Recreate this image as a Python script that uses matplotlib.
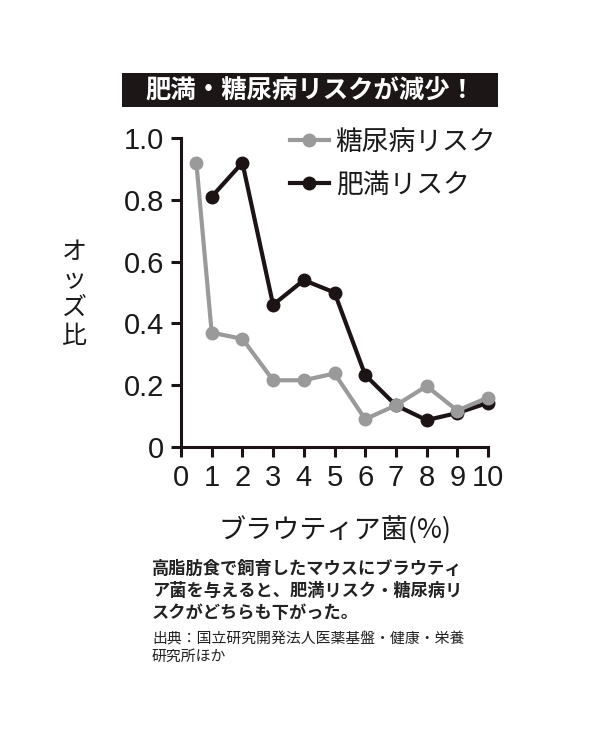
import matplotlib
matplotlib.use("Agg")
import matplotlib.pyplot as plt
from matplotlib.patches import Rectangle

plt.rcParams['font.family'] = ['Liberation Sans', 'Noto Sans CJK JP', 'DejaVu Sans']
JP = ['Noto Sans CJK JP', 'DejaVu Sans']

# ---- data ----
diab_x = [0.5, 1, 2, 3, 4, 5, 6, 7, 8, 9, 10]
diab_y = [0.92, 0.37, 0.35, 0.216, 0.216, 0.238, 0.09, 0.135, 0.197, 0.118, 0.16]
obes_x = [1, 2, 3, 4, 5, 6, 7, 8, 9, 10]
obes_y = [0.81, 0.92, 0.46, 0.54, 0.50, 0.233, 0.135, 0.087, 0.11, 0.143]
xticks = list(range(0, 11))
yticks = [0, 0.2, 0.4, 0.6, 0.8, 1.0]
ytick_labels = ['0', '0.2', '0.4', '0.6', '0.8', '1.0']
title = '肥満・糖尿病リスクが減少！'
label_diab = '糖尿病リスク'
label_obes = '肥満リスク'
xlabel = 'ブラウティア菌(%)'
ylabel = 'オッズ比'
note = '高脂肪食で飼育したマウスにブラウティ\nア菌を与えると、肥満リスク・糖尿病リ\nスクがどちらも下がった。'
source = '出典：国立研究開発法人医薬基盤・健康・栄養\n研究所ほか'

GRAY = '#9a9a9a'
BLACK = '#1c1414'
TXT = '#1a1a1a'

fig = plt.figure(figsize=(6.08, 7.5), dpi=100)
fig.patch.set_facecolor('white')
W, H = 608, 750
ax = fig.add_axes([181 / W, 1 - 447 / H, (488 - 181) / W, (447 - 138) / H])

l_obes, = ax.plot(obes_x, obes_y, color=BLACK, lw=3.0, marker='o', ms=9,
                  mfc=BLACK, mec=BLACK, clip_on=False, zorder=3)
l_diab, = ax.plot(diab_x, diab_y, color=GRAY, lw=3.0, marker='o', ms=9,
                  mfc=GRAY, mec=GRAY, clip_on=False, zorder=4)

ax.set_xlim(0, 10)
ax.set_ylim(0, 1.0)
ax.set_xticks(xticks)
ax.set_xticklabels([str(v) for v in xticks])
ax.set_yticks(yticks)
ax.set_yticklabels(ytick_labels)
for s in ['top', 'right']:
    ax.spines[s].set_visible(False)
for s in ['left', 'bottom']:
    ax.spines[s].set_linewidth(2.2)
    ax.spines[s].set_color(BLACK)
ax.tick_params(axis='both', direction='out', length=7, width=2.2, color=BLACK,
               labelsize=21, labelcolor=TXT)
ax.tick_params(axis='y', pad=5)
ax.tick_params(axis='x', pad=5)

leg = ax.legend([l_diab, l_obes], [label_diab, label_obes], loc='upper left',
                bbox_to_anchor=((290 - 181) / (488 - 181), 1.03), frameon=False,
                prop={'family': JP, 'size': 19.3}, handlelength=1.45,
                handletextpad=0.25, labelspacing=0.6, borderaxespad=0,
                borderpad=0)
for t in leg.get_texts():
    t.set_color(TXT)

ax.set_xlabel(xlabel, fontfamily=JP, fontsize=19.5, labelpad=18, color=TXT)

fig.text(74 / W, 1 - 294 / H, '\n'.join(list(ylabel)), fontfamily=JP,
         fontsize=18, ha='center', va='center', linespacing=1.1, color=TXT)

# title box
fig.patches.append(Rectangle((122 / W, 1 - 107 / H), (498 - 122) / W, (107 - 73) / H,
                             transform=fig.transFigure, facecolor='#1c1616',
                             edgecolor='none'))
fig.text(310 / W, 1 - 91 / H, title, fontfamily=JP, fontsize=18.3, fontweight='bold',
         color='white', ha='center', va='center')

fig.text(152 / W, 1 - 560 / H, note, fontfamily=JP, fontsize=12.4, fontweight='bold',
         ha='left', va='top', linespacing=1.3, color='#222222')
fig.text(152 / W, 1 - 632 / H, source, fontfamily=JP, fontsize=10.7,
         ha='left', va='top', linespacing=1.35, color='#222222')

fig.savefig('out.png', dpi=100, facecolor='white')
